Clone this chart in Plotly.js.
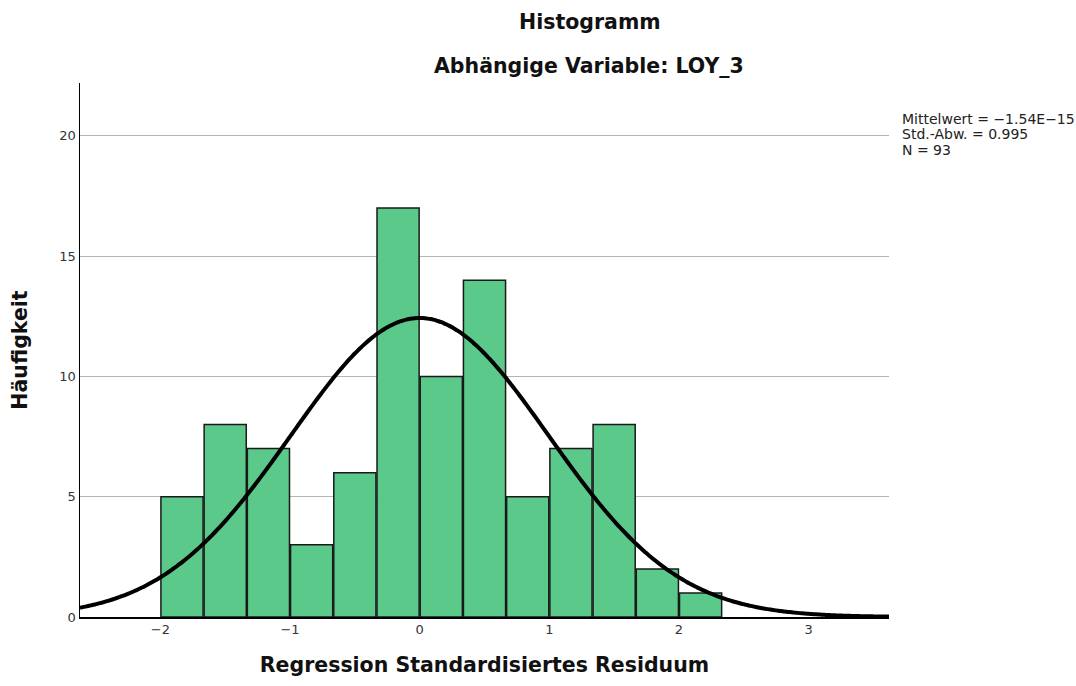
<!DOCTYPE html>
<html>
<head>
<meta charset="utf-8">
<script src="https://cdn.plot.ly/plotly-3.0.1.min.js"></script>
<style>html,body{margin:0;padding:0;background:#fff;}#chart{width:1076px;height:686px;}</style>
</head>
<body>
<div id="chart"></div>
<script>
// Data
const binStart = -2;
const binWidth = 1/3;
const counts = [5, 8, 7, 3, 6, 17, 10, 14, 5, 7, 8, 2, 1];
const statMean = -1.54e-15;
const statSD = 0.995;
const statN = 93;
const statLabels = ["Mittelwert = −1.54E−15", "Std.-Abw. = 0.995", "N = 93"];
const xTicks = [-2, -1, 0, 1, 2, 3];
const xTickLabels = ["−2", "−1", "0", "1", "2", "3"];
const yTicks = [0, 5, 10, 15, 20];

const centers = counts.map((_, i) => binStart + (i + 0.5) * binWidth);

// Normal curve defined by the displayed statistics (mean, SD, N, bin width)
const xr = [-2.62, 3.62];
const curveX = [], curveY = [];
for (let i = 0; i <= 300; i++) {
  const x = xr[0] + (xr[1] - xr[0]) * i / 300;
  const z = (x - statMean) / statSD;
  curveX.push(x);
  curveY.push(statN * binWidth / (statSD * Math.sqrt(2 * Math.PI)) * Math.exp(-0.5 * z * z));
}

const traces = [
  {
    type: 'bar', x: centers, y: counts, width: binWidth * 0.975,
    marker: { color: '#5BC98A', line: { color: '#1a1a1a', width: 1.5 } },
    hoverinfo: 'x+y', showlegend: false
  },
  {
    type: 'scatter', mode: 'lines', x: curveX, y: curveY,
    line: { color: '#000', width: 4, shape: 'spline' },
    hoverinfo: 'skip', showlegend: false
  }
];

const PL = 80, PT = 83, PW = 809, PH = 534;
const px = (x) => (x - PL) / PW;
const py = (y) => 1 - (y - PT) / PH;
const titleFont = { size: 20.5, family: 'DejaVu Sans, sans-serif', color: '#111' };

const annotations = [
  { xref: 'paper', yref: 'paper', x: px(590), y: py(22), text: '<b>Histogramm</b>',
    showarrow: false, xanchor: 'center', yanchor: 'middle', font: titleFont },
  { xref: 'paper', yref: 'paper', x: px(589), y: py(66), text: '<b>Abhängige Variable: LOY_3</b>',
    showarrow: false, xanchor: 'center', yanchor: 'middle', font: titleFont }
];
const statY = [119, 134.5, 150];
statLabels.forEach((t, i) => annotations.push({
  xref: 'paper', yref: 'paper', x: px(900), y: py(statY[i]), text: t,
  showarrow: false, xanchor: 'left', yanchor: 'middle', align: 'left',
  font: { size: 14, family: 'DejaVu Sans, sans-serif', color: '#222' }
}));

const layout = {
  width: 1076, height: 686,
  margin: { l: PL, r: 1076 - PL - PW, t: PT, b: 686 - PT - PH },
  paper_bgcolor: '#fff', plot_bgcolor: '#fff',
  font: { family: 'DejaVu Sans, sans-serif', color: '#222' },
  xaxis: {
    range: xr, tickvals: xTicks, ticktext: xTickLabels,
    showgrid: false, zeroline: false, showline: true, linecolor: '#000', linewidth: 1.5,
    ticks: '', tickfont: { size: 13, color: '#333' },
    title: { text: '<b>Regression Standardisiertes Residuum</b>', font: titleFont, standoff: 21 }
  },
  yaxis: {
    range: [0, 22.2], tickvals: yTicks,
    showgrid: true, gridcolor: '#b5b5b5', gridwidth: 1,
    zeroline: false, showline: true, linecolor: '#000', linewidth: 1.5,
    ticks: '', tickfont: { size: 13, color: '#333' },
    title: { text: '<b>Häufigkeit</b>', font: titleFont, standoff: 26 }
  },
  bargap: 0,
  annotations: annotations
};

Plotly.newPlot('chart', traces, layout, { displayModeBar: false, staticPlot: true });
</script>
</body>
</html>
